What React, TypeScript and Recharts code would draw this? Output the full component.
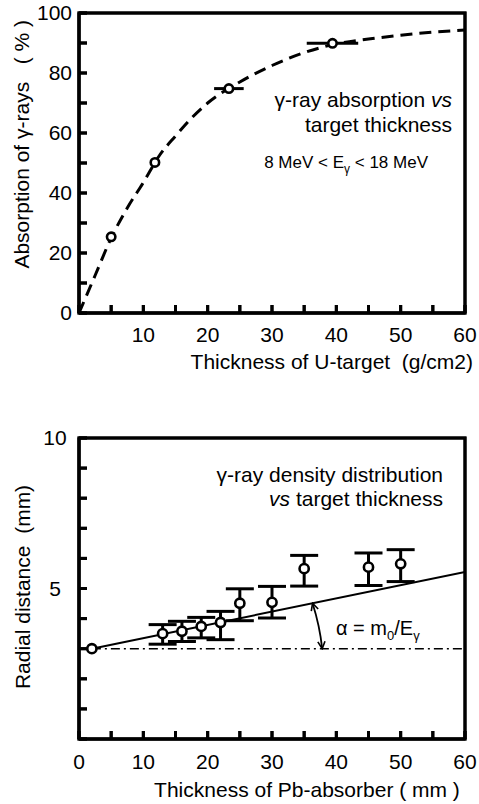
import React from 'react';
import {
  ComposedChart,
  Line,
  Scatter,
  XAxis,
  YAxis,
  ErrorBar,
  ReferenceLine,
  ReferenceArea,
  Label,
} from 'recharts';

const FONT = "'Liberation Sans', Arial, Helvetica, sans-serif";

// ---------- Top chart: absorption vs U-target thickness ----------
const uThickness = [5.0, 11.8, 23.3, 39.4];
const uAbsorption = [25.4, 50.2, 74.8, 89.9];
const uThicknessErr = [0, 0, 2.3, 4.0];

const uCurveX = [0, 2.5, 5, 7.5, 10, 12.5, 15, 17.5, 20, 25, 30, 35, 40, 45, 50, 55, 60];
const uCurveY = [0, 12.5, 25, 35, 43.5, 52.5, 59, 65, 70, 77, 82.5, 86.8, 89.7, 91.3, 92.6, 93.6, 94.3];

const uXDomain = [0, 60];
const uYDomain = [0, 100];
const uXTicks = [0, 5, 10, 15, 20, 25, 30, 35, 40, 45, 50, 55, 60];
const uXLabels = [10, 20, 30, 40, 50, 60];
const uYTicks = [0, 10, 20, 30, 40, 50, 60, 70, 80, 90, 100];
const uYLabels = [0, 20, 40, 60, 80, 100];

// ---------- Bottom chart: radial distance vs Pb-absorber thickness ----------
const pbThickness = [2, 13, 16, 19, 22, 25, 30, 35, 45, 50];
const pbRadial = [3.0, 3.5, 3.58, 3.74, 3.87, 4.51, 4.54, 5.66, 5.71, 5.82];
const pbErrLow = [0, 0.35, 0.34, 0.38, 0.57, 0.58, 0.52, 0.58, 0.61, 0.59];
const pbErrHigh = [0, 0.3, 0.33, 0.3, 0.37, 0.48, 0.53, 0.44, 0.47, 0.47];

const fitX = [2, 60];
const fitY = [3.0, 5.55];
const baseX = [2, 60];
const baseY = [3.0, 3.0];
const arrowTop = { x: 36.3, y: 4.51 };
const arrowBottom = { x: 37.8, y: 3.0 };

const pbXDomain = [0, 60];
const pbYDomain = [0, 10];
const pbXTicks = [0, 5, 10, 15, 20, 25, 30, 35, 40, 45, 50, 55, 60];
const pbXLabels = [0, 10, 20, 30, 40, 50, 60];
const pbYTicks = [0, 1, 2, 3, 4, 5, 6, 7, 8, 9, 10];
const pbYLabels = [5, 10];

// ---------- built tables ----------
const uCurveData = uCurveX.map((x, i) => ({ x, y: uCurveY[i] }));
const uPointData = uThickness.map((x, i) => ({ x, y: uAbsorption[i], xErr: uThicknessErr[i] }));
const pbAll = pbThickness.map((x, i) => ({ x, y: pbRadial[i], yErr: [pbErrLow[i], pbErrHigh[i]] }));
const pbErrData = pbAll.filter((d, i) => pbErrLow[i] + pbErrHigh[i] > 0);
const pbNoErrData = pbAll.filter((d, i) => pbErrLow[i] + pbErrHigh[i] === 0);
const fitData = fitX.map((x, i) => ({ x, y: fitY[i] }));
const baseData = baseX.map((x, i) => ({ x, y: baseY[i] }));

const CHART_W = 479;
const TICK_LEN = 8;

const makeXTick = (labels: number[]) => (props: any) => {
  const { x, y, payload } = props;
  const v = payload.value;
  if (!labels.includes(v)) return <g />;
  return (
    <text x={x} y={y} dy="0.71em" textAnchor="middle" fontSize={21} fontFamily={FONT} fill="#000">
      {v}
    </text>
  );
};

const makeYTick = (labels: number[], anchor: string, dx: number) => (props: any) => {
  const { x, y, payload } = props;
  const v = payload.value;
  if (!labels.includes(v)) return <g />;
  return (
    <text x={x + dx} y={y} dy="0.355em" textAnchor={anchor as any} fontSize={21} fontFamily={FONT} fill="#000">
      {v}
    </text>
  );
};

const EmptyTick = () => <g />;

const OpenCircle = (r: number) => (props: any) => {
  const { cx, cy } = props;
  return <circle cx={cx} cy={cy} r={r} fill="#fff" stroke="#000" strokeWidth={2.6} />;
};

const ArcArrow = (props: any) => {
  const { x1, y1, x2, y2 } = props;
  const R = 226;
  return (
    <g>
      <defs>
        <marker
          id="arrowHead"
          viewBox="0 0 10 10"
          refX="9"
          refY="5"
          markerWidth="9"
          markerHeight="9"
          markerUnits="userSpaceOnUse"
          orient="auto-start-reverse"
        >
          <path d="M1,1 L9,5 L1,9" fill="none" stroke="#000" strokeWidth={1.8} />
        </marker>
      </defs>
      <path
        d={`M${x1},${y1} A${R},${R} 0 0 1 ${x2},${y2}`}
        fill="none"
        stroke="#000"
        strokeWidth={1.8}
        markerStart="url(#arrowHead)"
        markerEnd="url(#arrowHead)"
      />
    </g>
  );
};

const txt = { fontFamily: FONT, fill: '#000' } as const;

// plot box derived from the chart layout (margins + axis sizes)
function plotBox(height: number, margin: any, xAxisH: number, yAxisW: number) {
  const left = margin.left + yAxisW;
  const top = margin.top;
  const width = CHART_W - left - margin.right;
  const h = height - top - margin.bottom - xAxisH;
  return { left, top, width, height: h };
}

// frame and inward tick marks, drawn as plain SVG on top of the chart
function renderFrame(box: any, xDomain: number[], yDomain: number[], xTicks: number[], yTicks: number[]) {
  const sx = (v: number) => box.left + ((v - xDomain[0]) / (xDomain[1] - xDomain[0])) * box.width;
  const sy = (v: number) => box.top + box.height - ((v - yDomain[0]) / (yDomain[1] - yDomain[0])) * box.height;
  const bottom = box.top + box.height;
  return (
    <g className="frame-marks">
      <rect x={box.left} y={box.top} width={box.width} height={box.height} fill="none" stroke="#000" strokeWidth={3} />
      {xTicks.map((v) => (
        <line key={`fx${v}`} x1={sx(v)} x2={sx(v)} y1={bottom} y2={bottom - TICK_LEN} stroke="#000" strokeWidth={3} />
      ))}
      {yTicks.map((v) => (
        <line key={`fy${v}`} x1={box.left} x2={box.left + TICK_LEN} y1={sy(v)} y2={sy(v)} stroke="#000" strokeWidth={3} />
      ))}
    </g>
  );
}

function FrameOverlay({ height, margin, xHeight, xDomain, yDomain, xTicks, yTicks, data }: any) {
  return (
    <div style={{ position: 'absolute', left: 0, top: 0, pointerEvents: 'none' }}>
      <ComposedChart width={CHART_W} height={height} margin={margin}>
        <XAxis
          type="number"
          dataKey="x"
          domain={xDomain}
          ticks={xTicks}
          interval={0}
          height={xHeight}
          tickSize={-TICK_LEN}
          tickMargin={10}
          tick={EmptyTick}
          tickLine={{ stroke: '#000', strokeWidth: 3 }}
          axisLine={{ stroke: '#000', strokeWidth: 3 }}
          allowDataOverflow
        />
        <YAxis
          type="number"
          domain={yDomain}
          ticks={yTicks}
          interval={0}
          width={79}
          tickSize={-TICK_LEN}
          tickMargin={10}
          tick={EmptyTick}
          tickLine={{ stroke: '#000', strokeWidth: 3 }}
          axisLine={{ stroke: '#000', strokeWidth: 3 }}
          allowDataOverflow
        />
        <ReferenceArea
          x1={xDomain[0]}
          x2={xDomain[1]}
          y1={yDomain[0]}
          y2={yDomain[1]}
          fill="none"
          fillOpacity={0}
          stroke="#000"
          strokeWidth={3}
          ifOverflow="visible"
        />
        <Line data={data} dataKey="y" stroke="transparent" dot={false} activeDot={false} isAnimationActive={false} />
      </ComposedChart>
    </div>
  );
}

function TopChart() {
  const H = 400;
  const margin = { top: 13, right: 14, bottom: 37, left: 0 };
  const box = plotBox(H, margin, 50, 79);
  return (
    <div style={{ position: 'relative', width: CHART_W, height: H }}>
      <ComposedChart width={CHART_W} height={H} margin={margin}>
        <XAxis
          type="number"
          dataKey="x"
          domain={uXDomain}
          ticks={uXTicks}
          interval={0}
          tickSize={0}
          tickMargin={14}
          tickLine={false}
          axisLine={false}
          tick={makeXTick(uXLabels)}
          height={50}
          allowDataOverflow
        >
          <Label
            value="Thickness of U-target  (g/cm2)"
            content={() => (
              <text x={473} y={369} textAnchor="end" fontSize={21} style={{ whiteSpace: 'pre' }} {...txt}>
                Thickness of U-target  (g/cm2)
              </text>
            )}
          />
        </XAxis>
        <YAxis
          type="number"
          domain={uYDomain}
          ticks={uYTicks}
          interval={0}
          width={79}
          tickSize={0}
          tickMargin={7}
          tickLine={false}
          axisLine={false}
          tick={makeYTick(uYLabels, 'end', 0)}
          allowDataOverflow
        >
          <Label
            value="Absorption of γ-rays   ( % )"
            content={() => (
              <text
                x={29}
                y={20}
                transform="rotate(-90 29 20)"
                textAnchor="end"
                fontSize={21}
                style={{ whiteSpace: 'pre' }}
                {...txt}
              >
                Absorption of γ-rays   ( % )
              </text>
            )}
          />
        </YAxis>
        <Line
          data={uCurveData}
          dataKey="y"
          type="monotone"
          stroke="#000"
          strokeWidth={3}
          strokeDasharray="12 7"
          dot={false}
          activeDot={false}
          isAnimationActive={false}
        />
        <Scatter data={uPointData} dataKey="y" shape={OpenCircle(4.2)} isAnimationActive={false}>
          <ErrorBar dataKey="xErr" direction="x" width={0} stroke="#000" strokeWidth={3} />
        </Scatter>
        <text x={452} y={107} textAnchor="end" fontSize={21} {...txt}>
          γ-ray absorption <tspan fontStyle="italic">vs</tspan>
        </text>
        <text x={452} y={132} textAnchor="end" fontSize={21} {...txt}>
          target thickness
        </text>
        <text x={428} y={168} textAnchor="end" fontSize={17} {...txt}>
          8 MeV &lt; E<tspan dy={5} fontSize={12}>γ</tspan>
          <tspan dy={-5}> &lt; 18 MeV</tspan>
        </text>
        {renderFrame(box, uXDomain, uYDomain, uXTicks, uYTicks)}
      </ComposedChart>
      <FrameOverlay
        height={H}
        margin={margin}
        xHeight={50}
        xDomain={uXDomain}
        yDomain={uYDomain}
        xTicks={uXTicks}
        yTicks={uYTicks}
        data={uCurveData}
      />
    </div>
  );
}

function BottomChart() {
  const H = 404;
  const margin = { top: 38, right: 14, bottom: 5, left: 0 };
  const box = plotBox(H, margin, 60, 79);
  return (
    <div style={{ position: 'relative', width: CHART_W, height: H }}>
      <ComposedChart width={CHART_W} height={H} margin={margin}>
        <XAxis
          type="number"
          dataKey="x"
          domain={pbXDomain}
          ticks={pbXTicks}
          interval={0}
          tickSize={0}
          tickMargin={15}
          tickLine={false}
          axisLine={false}
          tick={makeXTick(pbXLabels)}
          height={60}
          allowDataOverflow
        >
          <Label
            value="Thickness of Pb-absorber ( mm )"
            content={() => (
              <text x={307} y={397} textAnchor="middle" fontSize={21} style={{ whiteSpace: 'pre' }} {...txt}>
                Thickness of Pb-absorber ( mm )
              </text>
            )}
          />
        </XAxis>
        <YAxis
          type="number"
          domain={pbYDomain}
          ticks={pbYTicks}
          interval={0}
          width={79}
          tickSize={0}
          tickMargin={7}
          tickLine={false}
          axisLine={false}
          tick={makeYTick(pbYLabels, 'middle', -17)}
          allowDataOverflow
        >
          <Label
            value="Radial distance  (mm)"
            content={() => (
              <text
                x={30}
                y={187}
                transform="rotate(-90 30 187)"
                textAnchor="middle"
                fontSize={21}
                style={{ whiteSpace: 'pre' }}
                {...txt}
              >
                Radial distance  (mm)
              </text>
            )}
          />
        </YAxis>
        <Line
          data={baseData}
          dataKey="y"
          type="linear"
          stroke="#000"
          strokeWidth={1.5}
          strokeDasharray="9 4 2 4"
          dot={false}
          activeDot={false}
          isAnimationActive={false}
        />
        <Line
          data={fitData}
          dataKey="y"
          type="linear"
          stroke="#000"
          strokeWidth={2}
          dot={false}
          activeDot={false}
          isAnimationActive={false}
        />
        <ReferenceLine segment={[arrowTop, arrowBottom]} shape={ArcArrow} ifOverflow="visible" />
        <Scatter data={pbErrData} dataKey="y" shape={OpenCircle(4.6)} isAnimationActive={false}>
          <ErrorBar dataKey="yErr" direction="y" width={14} stroke="#000" strokeWidth={3} />
        </Scatter>
        <Scatter data={pbNoErrData} dataKey="y" shape={OpenCircle(4.6)} isAnimationActive={false} />
        <text x={443} y={82} textAnchor="end" fontSize={21} {...txt}>
          γ-ray density distribution
        </text>
        <text x={443} y={106} textAnchor="end" fontSize={21} {...txt}>
          <tspan fontStyle="italic">vs</tspan> target thickness
        </text>
        <text x={336} y={235} textAnchor="start" fontSize={20} {...txt}>
          α = m<tspan dy={5} fontSize={13}>0</tspan>
          <tspan dy={-5}>/E</tspan>
          <tspan dy={5} fontSize={13}>γ</tspan>
        </text>
        {renderFrame(box, pbXDomain, pbYDomain, pbXTicks, pbYTicks)}
      </ComposedChart>
      <FrameOverlay
        height={H}
        margin={margin}
        xHeight={60}
        xDomain={pbXDomain}
        yDomain={pbYDomain}
        xTicks={pbXTicks}
        yTicks={pbYTicks}
        data={fitData}
      />
    </div>
  );
}

export default function App() {
  return (
    <div style={{ position: 'absolute', left: 0, top: 0, width: CHART_W, height: 804, background: '#fff' }}>
      <TopChart />
      <BottomChart />
    </div>
  );
}
